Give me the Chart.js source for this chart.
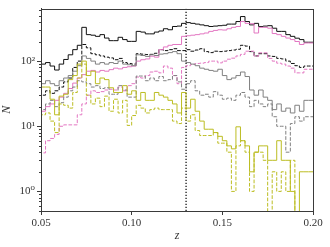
<!DOCTYPE html>
<html><head><meta charset="utf-8">
<script src="https://cdn.jsdelivr.net/npm/chart.js@4/dist/chart.umd.min.js"></script>
<style>html,body{margin:0;padding:0;background:#fff}#wrap{width:330px;height:247px}</style>
</head><body><div id="wrap"><canvas id="c" width="330" height="247"></canvas></div>
<script>
const zLow = 0.05, zHigh = 0.20, binWidth = 0.0025;
const zCut = 0.13;
const yMin = 0.5, yMax = 640;
const xTickValues = [0.05, 0.10, 0.15, 0.20];
const yMajorTicks = [1, 10, 100];
const yTickLabels = ['10⁰', '10¹', '10²'];
const yMinorTicks = [0.5,0.6,0.7,0.8,0.9,2,3,4,5,6,7,8,9,20,30,40,50,60,70,80,90,200,300,400,500,600];

const blackSolid = [50,90,95,84,73,90,106,125,150,175, 330,255,250,240,255,226,206,206,232,214,
  201,201,286,279,262,262,279,290,314,303, 340,345,380,390,380,370,360,350,340,345,
  350,355,370,370,405,483,405,360,380,340, 345,350,320,286,286,255,240,225,214,195];
const pinkSolid = [16,17,20,22,25,28,32,38,46,55, 62,70,72,68,72,70,74,78,76,80,
  82,84,100,105,108,119,115,150,165,175, 180,180,240,245,250,255,262,270,286,296,
  303,300,314,330,340,405,380,375,270,330, 330,320,265,255,240,226,214,200,180,190];
const blackDashed = [22,30,35,32,35,40,48,55,80,100, 180,160,130,125,120,115,112,105,110,95,
  92,90,130,128,126,127,132,150,145,150, 155,145,145,150,142,148,155,140,135,142,
  140,142,145,148,152,175,170,140,120,130, 130,120,118,110,108,100,92,85,80,84];
const pinkDashed = [5.2,3.9,6,6.5,7.5,10,10.5,10.5,10.5,15, 22,30,35,33,34,36,37,36,40,35,
  42,45,57,55,60,68,70,66,84,78, 60,45,80,85,89,92,93,95,100,100,
  94,100,107,111,120,127,142,142,119,134, 134,110,100,93,90,84,78,66,66,75];
const graySolid = [30,45,50,45,42,50,55,60,70,85, 120,110,100,90,95,90,95,92,100,90,
  88,85,125,122,118,125,122,128,130,135, 140,130,100,95,90,85,78,75,72,70,
  75,60,52,55,60,68,58,36,30,36, 28,25,18,22,17,19,16,21,17,25];
const grayDashed = [20,18,22,25,20,23,28,35,40,50, 48,45,40,42,38,39,31,31,42,36,
  28,28,59,59,50,55,50,58,50,52, 60,48,37,45,50,35,30,31,28,34,
  30,26,27,25,30,33,28,20,25,22, 20,22,14,10,10,4,11,14,12,14];
const oliveSolid = [35,40,40,26,15,29,31,52,60,90, 100,60,70,45,55,52,39,33,33,42,
  31,35,25,33,25,25,33,30,28,25, 22,16,33,19,26,17,12,9,9,8,
  7,6,5,4.5,9.8,6,5,2,4,5, 5,3,3,6,3,3,1,0,2,2];
const oliveDashed = [8,15,16,12,8,22,21,19,33,55, 90,30,22,27,20,29,17,26,16,25,
  10.3,14.6,21,19,16,18,19,18,18,18, 12,11,19,12,15,8.6,7.2,7.2,7.2,8,
  5.5,5.5,4,1,5,6,4,1,4,4, 3,0,2,1,2,1,3,0,0,0];

const FLOOR = 1e-3; // empty bins fall below the axis
function stepPoints(vals) {
  const pts = vals.map((v, i) => ({x: zLow + i * binWidth, y: v > 0 ? v : FLOOR}));
  const last = vals[vals.length - 1];
  pts.push({x: zLow + vals.length * binWidth, y: last > 0 ? last : FLOOR});
  return pts;
}
const BLACK = '#111111', GRAY = '#808080', PINK = '#e377c2', OLIVE = '#bcbd22';
const DASH = [3.7, 1.6];
function ds(vals, color, dashed) {
  return {data: stepPoints(vals), borderColor: color, borderWidth: 1, stepped: 'after',
    pointRadius: 0, fill: false, borderDash: dashed ? DASH : [], tension: 0};
}
const datasets = [
  ds(oliveDashed, OLIVE, true), ds(oliveSolid, OLIVE, false),
  ds(grayDashed, GRAY, true), ds(graySolid, GRAY, false),
  ds(pinkDashed, PINK, true), ds(pinkSolid, PINK, false),
  ds(blackDashed, BLACK, true), ds(blackSolid, BLACK, false),
  {data: [{x: zCut, y: yMin}, {x: zCut, y: yMax}], borderColor: '#000', borderWidth: 1.2,
   borderDash: [1.2, 1.8], pointRadius: 0, fill: false}
];

const AXIS = '#3a3a3a';
const framePlugin = {
  id: 'frame',
  afterDraw(chart) {
    const {ctx, chartArea: a} = chart;
    const ys = chart.scales.y;
    ctx.save();
    ctx.strokeStyle = AXIS; ctx.lineWidth = 1;
    ctx.beginPath();
    yMinorTicks.forEach(v => {
      const p = Math.round(ys.getPixelForValue(v)) + 0.5;
      ctx.moveTo(a.left, p); ctx.lineTo(a.left - 2, p);
    });
    ctx.stroke();
    ctx.strokeRect(Math.round(a.left) + 0.5, Math.round(a.top) + 0.5,
      Math.round(a.right - a.left), Math.round(a.bottom - a.top));
    ctx.restore();
  }
};

const SERIF = "'Liberation Serif','DejaVu Serif',serif";
new Chart(document.getElementById('c'), {
  type: 'line',
  data: {datasets},
  options: {
    responsive: false, animation: false, devicePixelRatio: 1,
    layout: {padding: {top: 7, right: 17, left: 0, bottom: 0}},
    plugins: {legend: {display: false}, tooltip: {enabled: false}},
    scales: {
      x: {
        type: 'linear', min: zLow, max: zHigh,
        afterBuildTicks: s => { s.ticks = xTickValues.map(v => ({value: v})); },
        afterFit: s => { s.height = 36; },
        ticks: {callback: v => v.toFixed(2), font: {family: SERIF, size: 11}, color: '#333', padding: 2, maxRotation: 0},
        grid: {drawOnChartArea: false, tickLength: 4, tickColor: AXIS},
        border: {display: true, color: AXIS},
        title: {display: true, text: 'z', font: {family: SERIF, size: 12, style: 'italic'}, color: '#333', padding: {top: 0, bottom: 4}}
      },
      y: {
        type: 'logarithmic', min: yMin, max: yMax,
        afterBuildTicks: s => { s.ticks = yMajorTicks.map(v => ({value: v, major: true})); },
        afterFit: s => { s.width = 41; },
        ticks: {callback: (v) => { const i = yMajorTicks.indexOf(v); return i >= 0 ? yTickLabels[i] : ''; },
          font: {family: SERIF, size: 11}, color: '#333', padding: 2, autoSkip: false},
        grid: {drawOnChartArea: false, tickLength: 4, tickColor: AXIS},
        border: {display: true, color: AXIS},
        title: {display: true, text: 'N', font: {family: SERIF, size: 12, style: 'italic'}, color: '#333', padding: {top: 0, bottom: 0}}
      }
    }
  },
  plugins: [framePlugin]
});
</script></body></html>
